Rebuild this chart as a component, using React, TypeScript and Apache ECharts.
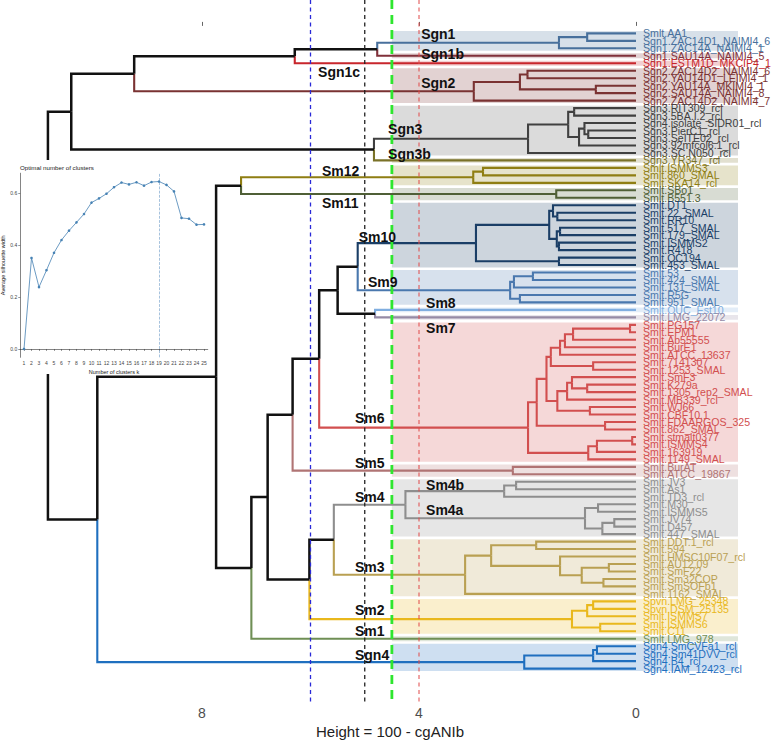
import React, { useEffect, useRef } from "react";
import * as echarts from "echarts";

const FONT = '"Liberation Sans", Arial, Helvetica, sans-serif';

// ---------- leaves (top to bottom) ----------
const LEAVES = [
  "Smlt.AA1", "Sgn1.ZAC14D1_NAIMI4_6", "Sgn1.ZAC14A_NAIMI4_1", "Sgn1.SAU14A_NAIMI4_5", "Sgn1.ESTM1D_MKCIP4_1",
  "Sgn2.ZAC14D2_NAIMI4_6", "Sgn2.YAU14D1_LEIMI4_1", "Sgn2.YAU14A_MKIMI4_1", "Sgn2.SAU14A_NAIMI4_8", "Sgn2.ZAC14D2_NAIMI4_7",
  "Sgn3.RIT309_rcl", "Sgn3.5BA.I.2_rcl", "Sgn4.isolate_SIDR01_rcl", "Sgn3.PierC1_rcl", "Sgn3.SeITE02_rcl",
  "Sgn3.92mfcol6.1_rcl", "Sgn3.SC.N050_rcl", "Sgn3.YR347_rcl",
  "Smlt.ISMMS3", "Smlt.860_SMAL", "Smlt.SKA14_rcl", "Smlt.SBo1", "Smlt.B551.3",
  "Smlt.DT1", "Smlt.22_SMAL", "Smlt.RR10", "Smlt.517_SMAL", "Smlt.179_SMAL", "Smlt.ISMMS2", "Smlt.R418", "Smlt.OC194", "Smlt.453_SMAL",
  "Smlt.53", "Smlt.424_SMAL", "Smlt.131_SMAL", "Smlt.R5G", "Smlt.951_SMAL", "Smlt.OUC_Est10", "Smlt.LMG_22072",
  "Smlt.PG157", "Smlt.EPM1", "Smlt.Ab55555", "Smlt.BurE1", "Smlt.ATCC_13637", "Smlt.7141307", "Smlt.1253_SMAL",
  "Smlt.SmF3", "Smlt.K279a", "Smlt.1305_rep2_SMAL", "Smlt.MB339_rcl", "Smlt.WJ66", "Smlt.CBF10.1", "Smlt.FDAARGOS_325",
  "Smlt.862_SMAL", "Smlt.stmalt0377", "Smlt.ISMMS4", "Smlt.163919", "Smlt.1149_SMAL",
  "Smlt.BurAT", "Smlt.ATCC_19867",
  "Smlt.JV3", "Smlt.As1", "Smlt.TD3_rcl", "Smlt.M30", "Smlt.ISMMS5", "Smlt.JV74", "Smlt.D457", "Smlt.447_SMAL",
  "Smlt.DDT.1_rcl", "Smlt.594", "Smlt.HMSC10F07_rcl", "Smlt.AU12.09", "Smlt.SmF22", "Smlt.Sm32COP", "Smlt.SmSOFb1", "Smlt.1162_SMAL",
  "Spvn.LMG_25348", "Spvn.DSM_25135", "Smlt.ISMMS7", "Smlt.ISMMS6", "Smlt.C11", "Smlt.LMG_978",
  "Sgn4.SmCVFa1_rcl", "Sgn4.Sm41DVV_rcl", "Sgn4.B4_rcl", "Sgn4.IAM_12423_rcl",
];

// ---------- merges (hclust style): negative = leaf number, positive = earlier merge; height ----------
const MERGES: [number, number, number][] = [
  [-1, -2, 0.9], [1, -3, 1.42], [2, -4, 4.77], [3, -5, 6.29],
  [-6, -7, 2.0], [-8, -9, 0.74], [5, 6, 2.14], [7, -10, 2.99], [4, 8, 9.25],
  [-11, -12, 1.14], [-14, -15, 0.88], [-13, 11, 0.95], [12, -16, 1.05], [10, 13, 1.25], [14, -17, 1.99], [15, -18, 4.83],
  [9, 16, 10.41],
  [-19, -20, 2.82], [18, -21, 3.0], [-22, -23, 1.47], [19, 20, 7.28],
  [-25, -26, 1.45], [-24, 22, 1.53], [-27, -28, 1.4], [-29, -30, 1.42], [24, 25, 1.46], [23, 26, 1.6], [-31, -32, 1.42], [27, 28, 2.95],
  [-33, -34, 1.9], [30, -35, 2.25], [-36, -37, 2.14], [31, 32, 2.32], [29, 33, 5.13], [-38, -39, 4.81], [34, 35, 5.5],
  [-40, -41, 0.11], [37, -42, 1.16], [38, -43, 1.31], [39, -44, 1.4], [-45, -46, 0.79], [40, 41, 1.57],
  [-48, -49, 0.9], [-47, 43, 1.18], [44, -50, 1.27], [-51, -52, 0.85], [45, 46, 1.45], [42, 47, 1.65],
  [-53, -54, 0.57], [48, 49, 1.83], [-55, -56, 0.07], [51, -57, 0.72], [52, -58, 0.88], [50, 53, 1.99],
  [36, 54, 5.84],
  [-59, -60, 2.27], [55, 56, 6.33],
  [-61, -62, 2.21], [58, -63, 2.43], [-64, -65, 0.7], [-66, -67, 0.4], [61, -68, 0.62], [60, 62, 0.94], [59, 63, 4.25],
  [-69, -70, 1.84], [-72, -73, 0.5], [-74, -75, 0.6], [66, 67, 1.0], [-71, 68, 1.4], [65, 69, 2.67], [70, -76, 3.15],
  [64, 71, 5.57],
  [-77, -78, 0.79], [73, -79, 0.9], [-80, -81, 0.66], [74, 75, 1.18],
  [72, 76, 6.02], [57, 77, 6.79], [78, -82, 7.09], [21, 79, 7.74],
  [-83, -84, 0.72], [81, -85, 0.79], [82, -86, 2.06],
  [80, 83, 9.93], [17, 84, 10.84],
];

// ---------- clusters ----------
const CLUSTER_NAMES = ["Sgn1", "Sgn1b", "Sgn1c", "Sgn2", "Sgn3", "Sgn3b", "Sm12", "Sm11", "Sm10", "Sm9", "Sm8", "Sm7", "Sm6", "Sm5", "Sm4", "Sm3", "Sm2", "Sm1", "Sgn4"];
const CLUSTER_FIRST = [1, 4, 5, 6, 11, 18, 19, 22, 24, 33, 38, 39, 40, 59, 61, 69, 77, 82, 83];
const CLUSTER_LAST = [3, 4, 5, 10, 17, 18, 21, 23, 32, 37, 38, 39, 58, 60, 68, 76, 81, 82, 86];
const CLUSTER_COLORS = [
  "#48709c", "#80303a", "#c8262c", "#7a3232", "#404040", "#7a7228", "#8f7e12", "#4f5f36", "#1a3e66", "#4a78ae",
  "#80aee0", "#958aa5", "#d24f4f", "#b07474", "#8e8e8e", "#b9a052", "#e9b81c", "#6f8f55", "#1f6fbf",
];

// cluster annotation labels: [text, height, leaf position]
const CLUSTER_LABELS: [string, number, number][] = [
  ["Sgn1", 3.96, 1.08], ["Sgn1b", 3.96, 3.76], ["Sgn1c", 5.86, 6.17], ["Sgn2", 3.96, 7.64],
  ["Sgn3", 4.57, 13.8], ["Sgn3b", 4.57, 17.14], ["Sm12", 5.79, 19.41], ["Sm11", 5.79, 23.7],
  ["Sm10", 5.11, 28.24], ["Sm9", 4.94, 34.27], ["Sm8", 3.87, 37.08], ["Sm7", 3.87, 40.42],
  ["Sm6", 5.18, 52.46], ["Sm5", 5.18, 58.48], ["Sm4b", 3.87, 61.43], ["Sm4", 5.18, 63.03],
  ["Sm4a", 3.87, 64.77], ["Sm3", 5.18, 72.4], ["Sm2", 5.18, 78.16], ["Sm1", 5.18, 80.97], ["Sgn4", 5.18, 84.18],
];

// cut lines
const CUT_HEIGHTS = [6, 5, 4.5, 4];
const CUT_COLORS = ["#2a2ad8", "#222222", "#2ee62e", "#e04848"];

// inset: silhouette
const K_VALUES = ["1", "2", "3", "4", "5", "6", "7", "8", "9", "10", "11", "12", "13", "14", "15", "16", "17", "18", "19", "20", "21", "22", "23", "24", "25"];
const SILHOUETTE = [0.0, 0.35, 0.238, 0.303, 0.37, 0.419, 0.455, 0.487, 0.519, 0.563, 0.579, 0.597, 0.622, 0.64, 0.633, 0.641, 0.628, 0.642, 0.644, 0.631, 0.606, 0.504, 0.501, 0.478, 0.479];
const OPTIMAL_K_INDEX = 18;

const BAND_LEFT_H = 4.5;
const BAND_RIGHT_H = -1.88;

function leafCluster(i: number) {
  for (let c = 0; c < CLUSTER_FIRST.length; c++) if (i >= CLUSTER_FIRST[c] && i <= CLUSTER_LAST[c]) return c;
  return -1;
}

function buildEdges() {
  const ny: number[] = [];
  const nh: number[] = [];
  const nc: number[] = [];
  const edges: number[][] = [];
  const info = (r: number) => (r < 0 ? { y: -r, h: 0, c: leafCluster(-r) } : { y: ny[r - 1], h: nh[r - 1], c: nc[r - 1] });
  MERGES.forEach((m, k) => {
    const a = info(m[0]);
    const b = info(m[1]);
    ny[k] = (a.y + b.y) / 2;
    nh[k] = m[2];
    nc[k] = a.c === b.c && a.c >= 0 ? a.c : -1;
    edges.push([m[2], ny[k], a.y, a.h, a.c]);
    edges.push([m[2], ny[k], b.y, b.h, b.c]);
  });
  return edges;
}

export default function App() {
  const ref = useRef<HTMLDivElement>(null);
  useEffect(() => {
    const chart = echarts.init(ref.current!, null, { renderer: "svg" });
    const edges = buildEdges();
    const bands = CLUSTER_FIRST.map((f, i) => [f, CLUSTER_LAST[i], i]);
    const option: any = {
      animation: false,
      backgroundColor: "#ffffff",
      textStyle: { fontFamily: FONT },
      grid: [
        { left: -15, right: 137, top: -4, bottom: 37, outerBoundsMode: "none", containLabel: false },
        { left: 20.25, width: 187.5, top: 173.2, height: 184.1, outerBoundsMode: "none", containLabel: false },
      ],
      xAxis: [
        {
          type: "value", gridIndex: 0, inverse: true, min: 0, max: 12, interval: 4,
          axisLine: { show: false }, splitLine: { show: false },
          axisTick: { show: true, inside: true, length: 4, lineStyle: { color: "#666", width: 1 } },
          axisLabel: { fontSize: 14, color: "#4d4d4d", margin: 0, fontFamily: FONT, formatter: (v: number) => (v === 12 ? "" : String(v)) },
        },
        {
          type: "category", gridIndex: 1, data: K_VALUES, boundaryGap: true, z: 21,
          axisLine: { show: true, lineStyle: { color: "#333", width: 0.6 } },
          axisTick: { show: true, alignWithLabel: true, length: 2, lineStyle: { color: "#333", width: 0.5 } },
          axisLabel: { fontSize: 5, color: "#444", margin: 3, interval: 0, fontFamily: FONT },
          name: "Number of clusters k", nameLocation: "middle", nameGap: 12,
          nameTextStyle: { fontSize: 5.5, color: "#222", fontFamily: FONT },
        },
      ],
      yAxis: [
        {
          type: "value", gridIndex: 0, inverse: true, min: -4, max: 91, interval: 1, position: "right", z: 3,
          axisLine: { show: false }, axisTick: { show: false }, splitLine: { show: false },
          axisLabel: {
            fontSize: 10.6, margin: 7, fontFamily: FONT,
            formatter: (v: number) => (v >= 1 && v <= LEAVES.length ? LEAVES[v - 1] : ""),
            color: (v: any) => {
              const n = Number(v);
              const c = leafCluster(n);
              return c >= 0 ? CLUSTER_COLORS[c] : "#333";
            },
          },
        },
        {
          type: "value", gridIndex: 1, min: -0.032, max: 0.676, z: 21,
          axisLine: { show: true, lineStyle: { color: "#333", width: 0.6 } },
          axisTick: { show: true, length: 2, customValues: [0, 0.2, 0.4, 0.6], lineStyle: { color: "#333", width: 0.5 } },
          splitLine: { show: false },
          axisLabel: { fontSize: 5, color: "#444", margin: 3, customValues: [0, 0.2, 0.4, 0.6], fontFamily: FONT, formatter: (v: number) => v.toFixed(1) },
          name: "Average silhouette width", nameLocation: "middle", nameGap: 13,
          nameTextStyle: { fontSize: 5.5, color: "#222", fontFamily: FONT },
        },
      ],
      series: [
        {
          type: "custom", name: "bands", xAxisIndex: 0, yAxisIndex: 0, z: 1, clip: false, silent: true,
          data: bands,
          renderItem: (params: any, api: any) => {
            const p1 = api.coord([BAND_LEFT_H, api.value(0) - 0.5]);
            const p2 = api.coord([BAND_RIGHT_H, api.value(1) + 0.5]);
            const ci = api.value(2);
            return {
              type: "rect",
              shape: { x: p1[0], y: p1[1] + 1.3, width: p2[0] - p1[0], height: p2[1] - p1[1] - 2.6 },
              style: { fill: CLUSTER_COLORS[ci], opacity: ci === 4 ? 0.19 : 0.22 },
            };
          },
        },
        {
          type: "custom", name: "dendrogram", xAxisIndex: 0, yAxisIndex: 0, z: 2, clip: false, silent: true,
          data: edges,
          renderItem: (params: any, api: any) => {
            const hp = api.value(0), yp = api.value(1), yc = api.value(2), hc = api.value(3), ci = api.value(4);
            const a = api.coord([hp, yp]);
            const b = api.coord([hp, yc]);
            const c = api.coord([hc, yc]);
            return {
              type: "polyline",
              shape: { points: [a, b, c] },
              style: { stroke: ci < 0 ? "#111111" : CLUSTER_COLORS[ci], lineWidth: ci < 0 ? 2.5 : 2.1, fill: "none", lineJoin: "miter" },
            };
          },
        },
        {
          type: "custom", name: "cuts", xAxisIndex: 0, yAxisIndex: 0, z: 4, clip: false, silent: true,
          data: CUT_HEIGHTS.map((h, i) => [h, i]),
          renderItem: (params: any, api: any) => {
            const i = api.value(1);
            const p = api.coord([api.value(0), 0]);
            const cs = params.coordSys;
            const green = i === 2;
            return {
              type: "line",
              shape: { x1: p[0], y1: cs.y + 4, x2: p[0], y2: cs.y + cs.height - 3 },
              style: {
                stroke: CUT_COLORS[i], lineWidth: green ? 2.8 : i === 3 ? 1 : 1.3,
                lineDash: green ? [9, 6] : [4, 3.5],
              },
            };
          },
        },
        {
          type: "custom", name: "clusterLabels", xAxisIndex: 0, yAxisIndex: 0, z: 5, clip: false, silent: true,
          data: CLUSTER_LABELS.map((l) => [l[1], l[2]]),
          renderItem: (params: any, api: any) => {
            const p = api.coord([api.value(0), api.value(1)]);
            return {
              type: "text",
              x: p[0], y: p[1],
              style: {
                text: CLUSTER_LABELS[params.dataIndex][0], fill: "#111",
                fontSize: 14, fontWeight: "bold", fontFamily: FONT,
                align: "left", verticalAlign: "middle",
              },
            };
          },
        },
        {
          type: "line", name: "silhouette", xAxisIndex: 1, yAxisIndex: 1, z: 22,
          data: SILHOUETTE, symbol: "circle", symbolSize: 2.6, showSymbol: true,
          itemStyle: { color: "#4682b4" }, lineStyle: { color: "#4682b4", width: 0.8 },
          markLine: {
            silent: true, symbol: "none", label: { show: false }, z: 22,
            lineStyle: { color: "#7fa7cf", width: 0.7, type: "dashed" },
            data: [{ xAxis: OPTIMAL_K_INDEX }],
          },
        },
      ],
      graphic: [
        { type: "rect", z: 20, silent: true, shape: { x: 0, y: 160, width: 213, height: 214 }, style: { fill: "#ffffff" } },
        { type: "text", z: 23, x: 20, y: 167, style: { text: "Optimal number of clusters", fontSize: 6.2, fill: "#222", fontFamily: FONT, verticalAlign: "middle" } },
        { type: "text", z: 23, x: 390, y: 731, style: { text: "Height = 100 - cgANIb", fontSize: 15, fill: "#222", fontFamily: FONT, align: "center", verticalAlign: "middle" } },
      ],
    };
    chart.setOption(option);
    return () => chart.dispose();
  }, []);
  return <div ref={ref} style={{ position: "absolute", left: 0, top: 0, width: 773, height: 743 }} />;
}
